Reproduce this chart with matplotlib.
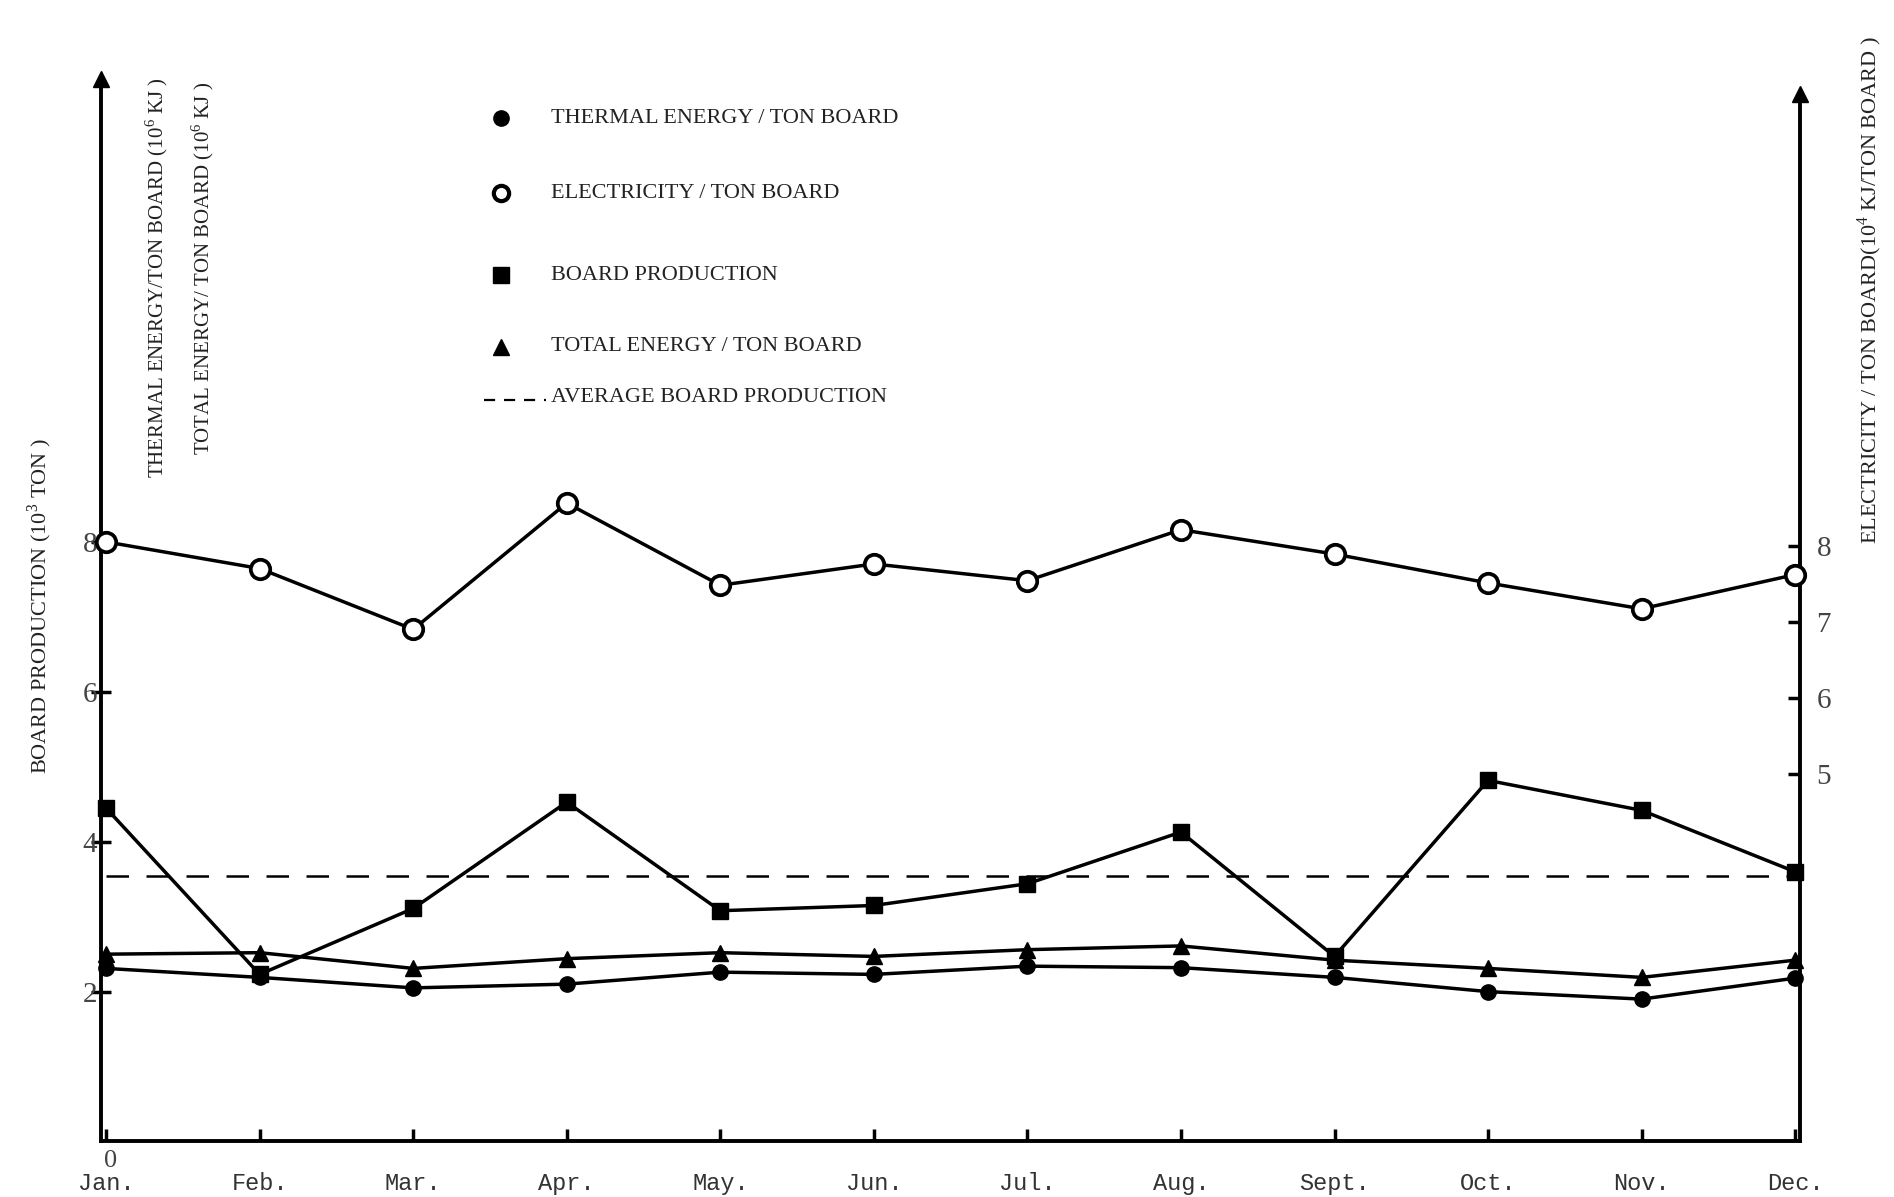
import numpy as np
import matplotlib
matplotlib.use('Agg')
import matplotlib.pyplot as plt
from matplotlib.lines import Line2D

plt.rcParams['font.family'] = ['Liberation Serif', 'DejaVu Serif']
plt.rcParams['mathtext.fontset'] = 'custom'
plt.rcParams['mathtext.rm'] = 'Liberation Serif'

months = ['Jan.', 'Feb.', 'Mar.', 'Apr.', 'May.', 'Jun.', 'Jul.', 'Aug.', 'Sept.', 'Oct.', 'Nov.', 'Dec.']

# 10^6 KJ per ton board (left axis)
thermal_energy = [2.31, 2.19, 2.05, 2.10, 2.26, 2.23, 2.34, 2.32, 2.19, 2.00, 1.90, 2.18]
total_energy = [2.50, 2.52, 2.31, 2.44, 2.52, 2.47, 2.56, 2.61, 2.42, 2.31, 2.19, 2.42]
# 10^3 ton (left axis)
board_production = [4.45, 2.23, 3.11, 4.53, 3.08, 3.15, 3.44, 4.13, 2.47, 4.82, 4.42, 3.60]
average_production = 3.55
# 10^4 KJ per ton board (right axis)
electricity = [8.05, 7.70, 6.90, 8.56, 7.48, 7.76, 7.54, 8.21, 7.89, 7.51, 7.17, 7.62]

left_ticks = [2, 4, 6, 8]
right_ticks = [5, 6, 7, 8]

W, H = 1568, 991


def fx(x):
    return x / W


def fy(y):
    return 1 - y / H


fig = plt.figure(figsize=(18.94, 11.97), dpi=100)
ax = fig.add_axes([fx(84), fy(945), fx(1490) - fx(84), fy(65) - fy(945)])
ax2 = ax.twinx()

x = np.arange(len(months))
lw = 2.5

ax.plot(x, board_production, color='black', lw=lw, marker='s', ms=12, zorder=3, clip_on=False)
ax.plot(x, total_energy, color='black', lw=lw, marker='^', ms=11, zorder=3, clip_on=False)
ax.plot(x, thermal_energy, color='black', lw=lw, marker='o', ms=11, zorder=3, clip_on=False)
ax.plot([x[0], x[-1]], [average_production, average_production], color='black', lw=1.8,
        dashes=(9, 7), zorder=2)
ax2.plot(x, electricity, color='black', lw=lw, marker='o', ms=14, mfc='white', mew=2.7,
         zorder=3, clip_on=False)

ax.set_xlim(-0.03, 11.03)
ax.set_ylim(0, 14.19)
ax2.set_ylim(0.17, 14.14)

for a in (ax, ax2):
    a.spines['top'].set_visible(False)
    a.patch.set_visible(False)
ax2.spines['left'].set_visible(False)
ax2.spines['bottom'].set_visible(False)
ax.spines['right'].set_visible(False)
for s in ('left', 'bottom'):
    ax.spines[s].set_linewidth(2.8)
ax2.spines['right'].set_linewidth(2.8)
ax2.spines['right'].set_bounds(0.17, 13.94)

# arrow heads on the vertical axes
ax.plot(0, 14.19, marker='^', ms=12, color='black', transform=ax.get_yaxis_transform(), clip_on=False)
ax2.plot(1, 13.94, marker='^', ms=12, color='black', transform=ax2.get_yaxis_transform(), clip_on=False)

ax.set_xticks(x)
ax.set_xticklabels(months, fontfamily=['Liberation Mono', 'DejaVu Sans Mono'], fontsize=17,
                   color='#333333')
ax.tick_params(axis='x', direction='in', length=9, width=2.5, pad=22)

ax.set_yticks(left_ticks)
ax.set_yticklabels([str(t) for t in left_ticks], fontsize=21, color='#444444')
ax.tick_params(axis='y', direction='inout', length=14, width=2.5, pad=-4)
ax.text(0.03, -0.12, '0', fontsize=19, color='#444444', ha='center', va='top')

ax2.set_yticks(right_ticks)
ax2.set_yticklabels([str(t) for t in right_ticks], fontsize=21, color='#444444')
ax2.tick_params(axis='y', direction='in', length=9, width=2.5, pad=12)

label_kw = dict(rotation=90, fontsize=16, color='#222222', ha='center', va='center')
fig.text(fx(33), fy(502), 'BOARD PRODUCTION (10$^3$ TON )', **label_kw)
fig.text(fx(130), fy(230), 'THERMAL ENERGY/TON BOARD (10$^6$ KJ )', **dict(label_kw, fontsize=15))
fig.text(fx(168), fy(222), 'TOTAL ENERGY/ TON BOARD (10$^6$ KJ )', **dict(label_kw, fontsize=15))
fig.text(fx(1548), fy(240), 'ELECTRICITY / TON BOARD(10$^4$ KJ/TON BOARD )', **label_kw)

# key
key_rows = [
    (98, dict(marker='o', ms=11, color='black', ls='none'), 'THERMAL ENERGY / TON BOARD'),
    (160, dict(marker='o', ms=11, mfc='white', mec='black', mew=3, ls='none'), 'ELECTRICITY / TON BOARD'),
    (228, dict(marker='s', ms=12, color='black', ls='none'), 'BOARD PRODUCTION'),
    (287, dict(marker='^', ms=12, color='black', ls='none'), 'TOTAL ENERGY / TON BOARD'),
]
for yk, style, text in key_rows:
    fig.add_artist(Line2D([fx(415)], [fy(yk)], transform=fig.transFigure, **style))
    fig.text(fx(456), fy(yk), text, fontsize=16, color='#222222', va='center')
fig.add_artist(Line2D([fx(401), fx(452)], [fy(331), fy(331)], transform=fig.transFigure,
                      color='black', lw=1.6, dashes=(5, 4)))
fig.text(fx(456), fy(329), 'AVERAGE BOARD PRODUCTION', fontsize=16, color='#222222', va='center')

fig.savefig('out.png', dpi=100, facecolor='white')
